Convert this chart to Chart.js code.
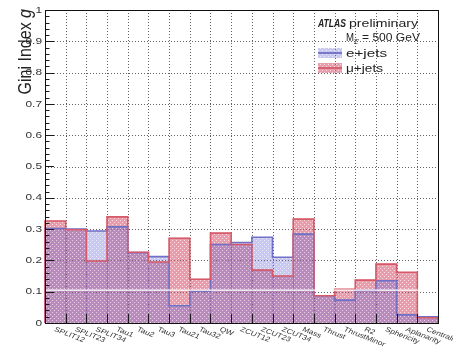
<!DOCTYPE html>
<html>
<head>
<meta charset="utf-8">
<script src="https://cdn.jsdelivr.net/npm/chart.js@4.4.1/dist/chart.umd.min.js"></script>
<style>
  html, body { margin: 0; padding: 0; background: #fff; }
  #c { display: block; }
</style>
</head>
<body>
<canvas id="c" width="453" height="349"></canvas>
<script>
// Substructure variables on the x axis
const categories = ['SPLIT12', 'SPLIT23', 'SPLIT34', 'Tau1', 'Tau2', 'Tau3', 'Tau21', 'Tau32', 'QW',
  'ZCUT12', 'ZCUT23', 'ZCUT34', 'Mass', 'Thrust', 'ThrustMinor', 'R2', 'Sphericity', 'Aplanarity', 'Centrality'];

// Gini index per variable
const eJets  = [0.302, 0.300, 0.294, 0.307, 0.225, 0.212, 0.055, 0.102, 0.251, 0.257,
  0.274, 0.210, 0.284, 0.087, 0.073, 0.104, 0.135, 0.026, 0.020];
const muJets = [0.326, 0.298, 0.198, 0.339, 0.226, 0.195, 0.271, 0.140, 0.287, 0.251,
  0.169, 0.150, 0.332, 0.087, 0.108, 0.137, 0.188, 0.162, 0.017];

const yTickValues = [0, 0.1, 0.2, 0.3, 0.4, 0.5, 0.6, 0.7, 0.8, 0.9, 1];
const yTickLabels = ['0', '0.1', '0.2', '0.3', '0.4', '0.5', '0.6', '0.7', '0.8', '0.9', '1'];
const yMinorStep = 0.02;
const markerLevel = 0.105;   // thin white reference line

const FONT = '"Liberation Sans", Arial, Helvetica, sans-serif';
const SX = 1.25;             // horizontal text stretch of the canvas style
const BLUE_LINE = '#7070c8';
const RED_LINE = '#d65a68';

const canvas = document.getElementById('c');
const ctx0 = canvas.getContext('2d');

function makePattern(r, g, b, alpha) {
  const t = document.createElement('canvas');
  t.width = 4; t.height = 4;
  const x = t.getContext('2d');
  x.fillStyle = `rgba(${r},${g},${b},${alpha})`;
  x.fillRect(0, 0, 4, 4);
  x.clearRect(0, 0, 1, 1); x.clearRect(2, 2, 1, 1);
  x.fillStyle = `rgba(${r},${g},${b},${alpha * 0.35})`;
  x.fillRect(0, 0, 1, 1); x.fillRect(2, 2, 1, 1);
  return ctx0.createPattern(t, 'repeat');
}
const bluePattern = makePattern(110, 110, 215, 0.38);
const redPattern = makePattern(212, 80, 105, 0.56);

function txt(ctx, s, x, y, font, o = {}) {
  ctx.save();
  ctx.font = font;
  ctx.fillStyle = o.color || '#222';
  ctx.textAlign = o.align || 'left';
  ctx.textBaseline = o.baseline || 'alphabetic';
  ctx.translate(x, y);
  if (o.width) {
    ctx.scale(o.width / ctx.measureText(s).width, 1);
  } else {
    ctx.scale(SX, 1);
  }
  if (o.rot) ctx.rotate(o.rot);
  ctx.fillText(s, 0, 0);
  ctx.restore();
}

const histDecor = {
  id: 'histDecor',
  beforeDatasetsDraw(chart) {
    const { ctx, chartArea: a, scales: { x, y } } = chart;
    ctx.save();
    ctx.strokeStyle = 'rgba(70,70,70,0.85)';
    ctx.lineWidth = 1;
    ctx.setLineDash([1, 2]);
    const half = (x.getPixelForValue(1) - x.getPixelForValue(0)) / 2;
    for (let i = 1; i < categories.length; i++) {
      const px = Math.round(x.getPixelForValue(i) - half) + 0.5;
      ctx.beginPath(); ctx.moveTo(px, a.top); ctx.lineTo(px, a.bottom); ctx.stroke();
    }
    yTickValues.slice(1, -1).forEach(v => {
      const py = Math.round(y.getPixelForValue(v)) + 0.5;
      ctx.beginPath(); ctx.moveTo(a.left, py); ctx.lineTo(a.right, py); ctx.stroke();
    });
    ctx.restore();
  },
  afterDatasetsDraw(chart) {
    const { ctx, chartArea: a, scales: { x, y } } = chart;
    // step outlines of both histograms
    chart.data.datasets.forEach((ds, di) => {
      const bars = chart.getDatasetMeta(di).data;
      ctx.save();
      ctx.strokeStyle = ds.lineColor;
      ctx.lineWidth = 1.6;
      ctx.lineJoin = 'miter';
      ctx.beginPath();
      bars.forEach((bar, i) => {
        const p = bar.getProps(['x', 'y', 'width', 'base'], true);
        const l = p.x - p.width / 2, r = p.x + p.width / 2;
        if (i === 0) { ctx.moveTo(l, p.base); }
        ctx.lineTo(l, p.y); ctx.lineTo(r, p.y);
        if (i === bars.length - 1) ctx.lineTo(r, p.base);
      });
      ctx.stroke();
      ctx.restore();
    });
    // white reference line
    ctx.save();
    ctx.strokeStyle = '#fff';
    ctx.lineWidth = 1.2;
    const wy = y.getPixelForValue(markerLevel);
    ctx.beginPath(); ctx.moveTo(a.left, wy); ctx.lineTo(a.right, wy); ctx.stroke();
    ctx.restore();
    // ticks
    ctx.save();
    ctx.strokeStyle = '#1a1a1a';
    ctx.lineWidth = 1;
    for (let v = 0; v <= 1.0001; v += yMinorStep) {
      const major = Math.abs(v * 10 - Math.round(v * 10)) < 1e-6;
      const py = Math.round(y.getPixelForValue(v)) + 0.5;
      ctx.beginPath(); ctx.moveTo(a.left, py); ctx.lineTo(a.left + (major ? 9 : 4.5), py); ctx.stroke();
    }
    const half = (x.getPixelForValue(1) - x.getPixelForValue(0)) / 2;
    for (let i = 0; i <= categories.length; i++) {
      const px = Math.round(x.getPixelForValue(i) - half) + 0.5;
      ctx.beginPath(); ctx.moveTo(px, a.bottom); ctx.lineTo(px, a.bottom - 9); ctx.stroke();
    }
    // frame
    ctx.strokeStyle = '#111';
    ctx.strokeRect(Math.round(a.left) + 0.5, Math.round(a.top) + 0.5,
      Math.round(a.right - a.left), Math.round(a.bottom - a.top));
    ctx.restore();
  },
  afterDraw(chart) {
    const { ctx, chartArea: a, scales: { x, y } } = chart;
    // y tick labels
    yTickValues.forEach((v, i) => {
      txt(ctx, yTickLabels[i], a.left - 3, y.getPixelForValue(v), '9.5px ' + FONT,
        { align: 'right', baseline: 'middle', color: '#333' });
    });
    // x category labels, slanted downwards
    categories.forEach((c, i) => {
      txt(ctx, c, x.getPixelForValue(i) + 1, a.bottom + 3, '6.8px ' + FONT,
        { baseline: 'top', rot: 26 * Math.PI / 180, color: '#333' });
    });
    // y axis title with italic g
    ctx.save();
    ctx.translate(31, a.top - 1);
    ctx.scale(1.15, 1);
    ctx.rotate(-Math.PI / 2);
    ctx.fillStyle = '#222';
    ctx.textBaseline = 'alphabetic';
    ctx.font = '16px ' + FONT;
    const w1 = ctx.measureText('Gini Index ').width;
    ctx.font = 'italic 16px ' + FONT;
    const w2 = ctx.measureText('g').width;
    ctx.font = '16px ' + FONT;
    ctx.fillText('Gini Index ', -(w1 + w2), 0);
    ctx.font = 'italic 16px ' + FONT;
    ctx.fillText('g', -w2, 0);
    ctx.restore();
    // labels and legend
    txt(ctx, 'ATLAS', 318, 27, 'italic bold 11px ' + FONT, { width: 28 });
    txt(ctx, 'preliminary', 349, 27, '11px ' + FONT, { width: 69 });
    txt(ctx, 'M', 346, 41, '10.5px ' + FONT, { width: 8 });
    txt(ctx, "Z'", 354, 43.5, '7px ' + FONT, { width: 5 });
    txt(ctx, '= 500 GeV', 362, 41, '10.5px ' + FONT, { width: 58 });
    const entries = [
      { label: 'e+jets', pat: bluePattern, line: BLUE_LINE, top: 48, w: 41 },
      { label: '\u03bc+jets', pat: redPattern, line: RED_LINE, top: 63, w: 37 }
    ];
    entries.forEach(e => {
      ctx.save();
      ctx.fillStyle = e.pat;
      ctx.fillRect(318, e.top, 24, 10);
      ctx.strokeStyle = e.line;
      ctx.lineWidth = 1.8;
      ctx.beginPath(); ctx.moveTo(318, e.top + 5); ctx.lineTo(342, e.top + 5); ctx.stroke();
      ctx.restore();
      txt(ctx, e.label, 346, e.top + 8.5, '11px ' + FONT, { width: e.w });
    });
  }
};

new Chart(canvas, {
  type: 'bar',
  data: {
    labels: categories,
    datasets: [
      { label: 'e+jets', data: eJets, backgroundColor: bluePattern, lineColor: BLUE_LINE, borderWidth: 0 },
      { label: '\u03bc+jets', data: muJets, backgroundColor: redPattern, lineColor: RED_LINE, borderWidth: 0 }
    ]
  },
  options: {
    responsive: false,
    devicePixelRatio: 1,
    animation: false,
    events: [],
    layout: { padding: { left: 45, right: 15, top: 10, bottom: 26 } },
    datasets: { bar: { grouped: false, barPercentage: 1, categoryPercentage: 1 } },
    plugins: { legend: { display: false }, tooltip: { enabled: false }, title: { display: false } },
    scales: {
      x: { display: false, offset: true },
      y: { display: false, min: 0, max: 1 }
    }
  },
  plugins: [histDecor]
});
</script>
</body>
</html>
